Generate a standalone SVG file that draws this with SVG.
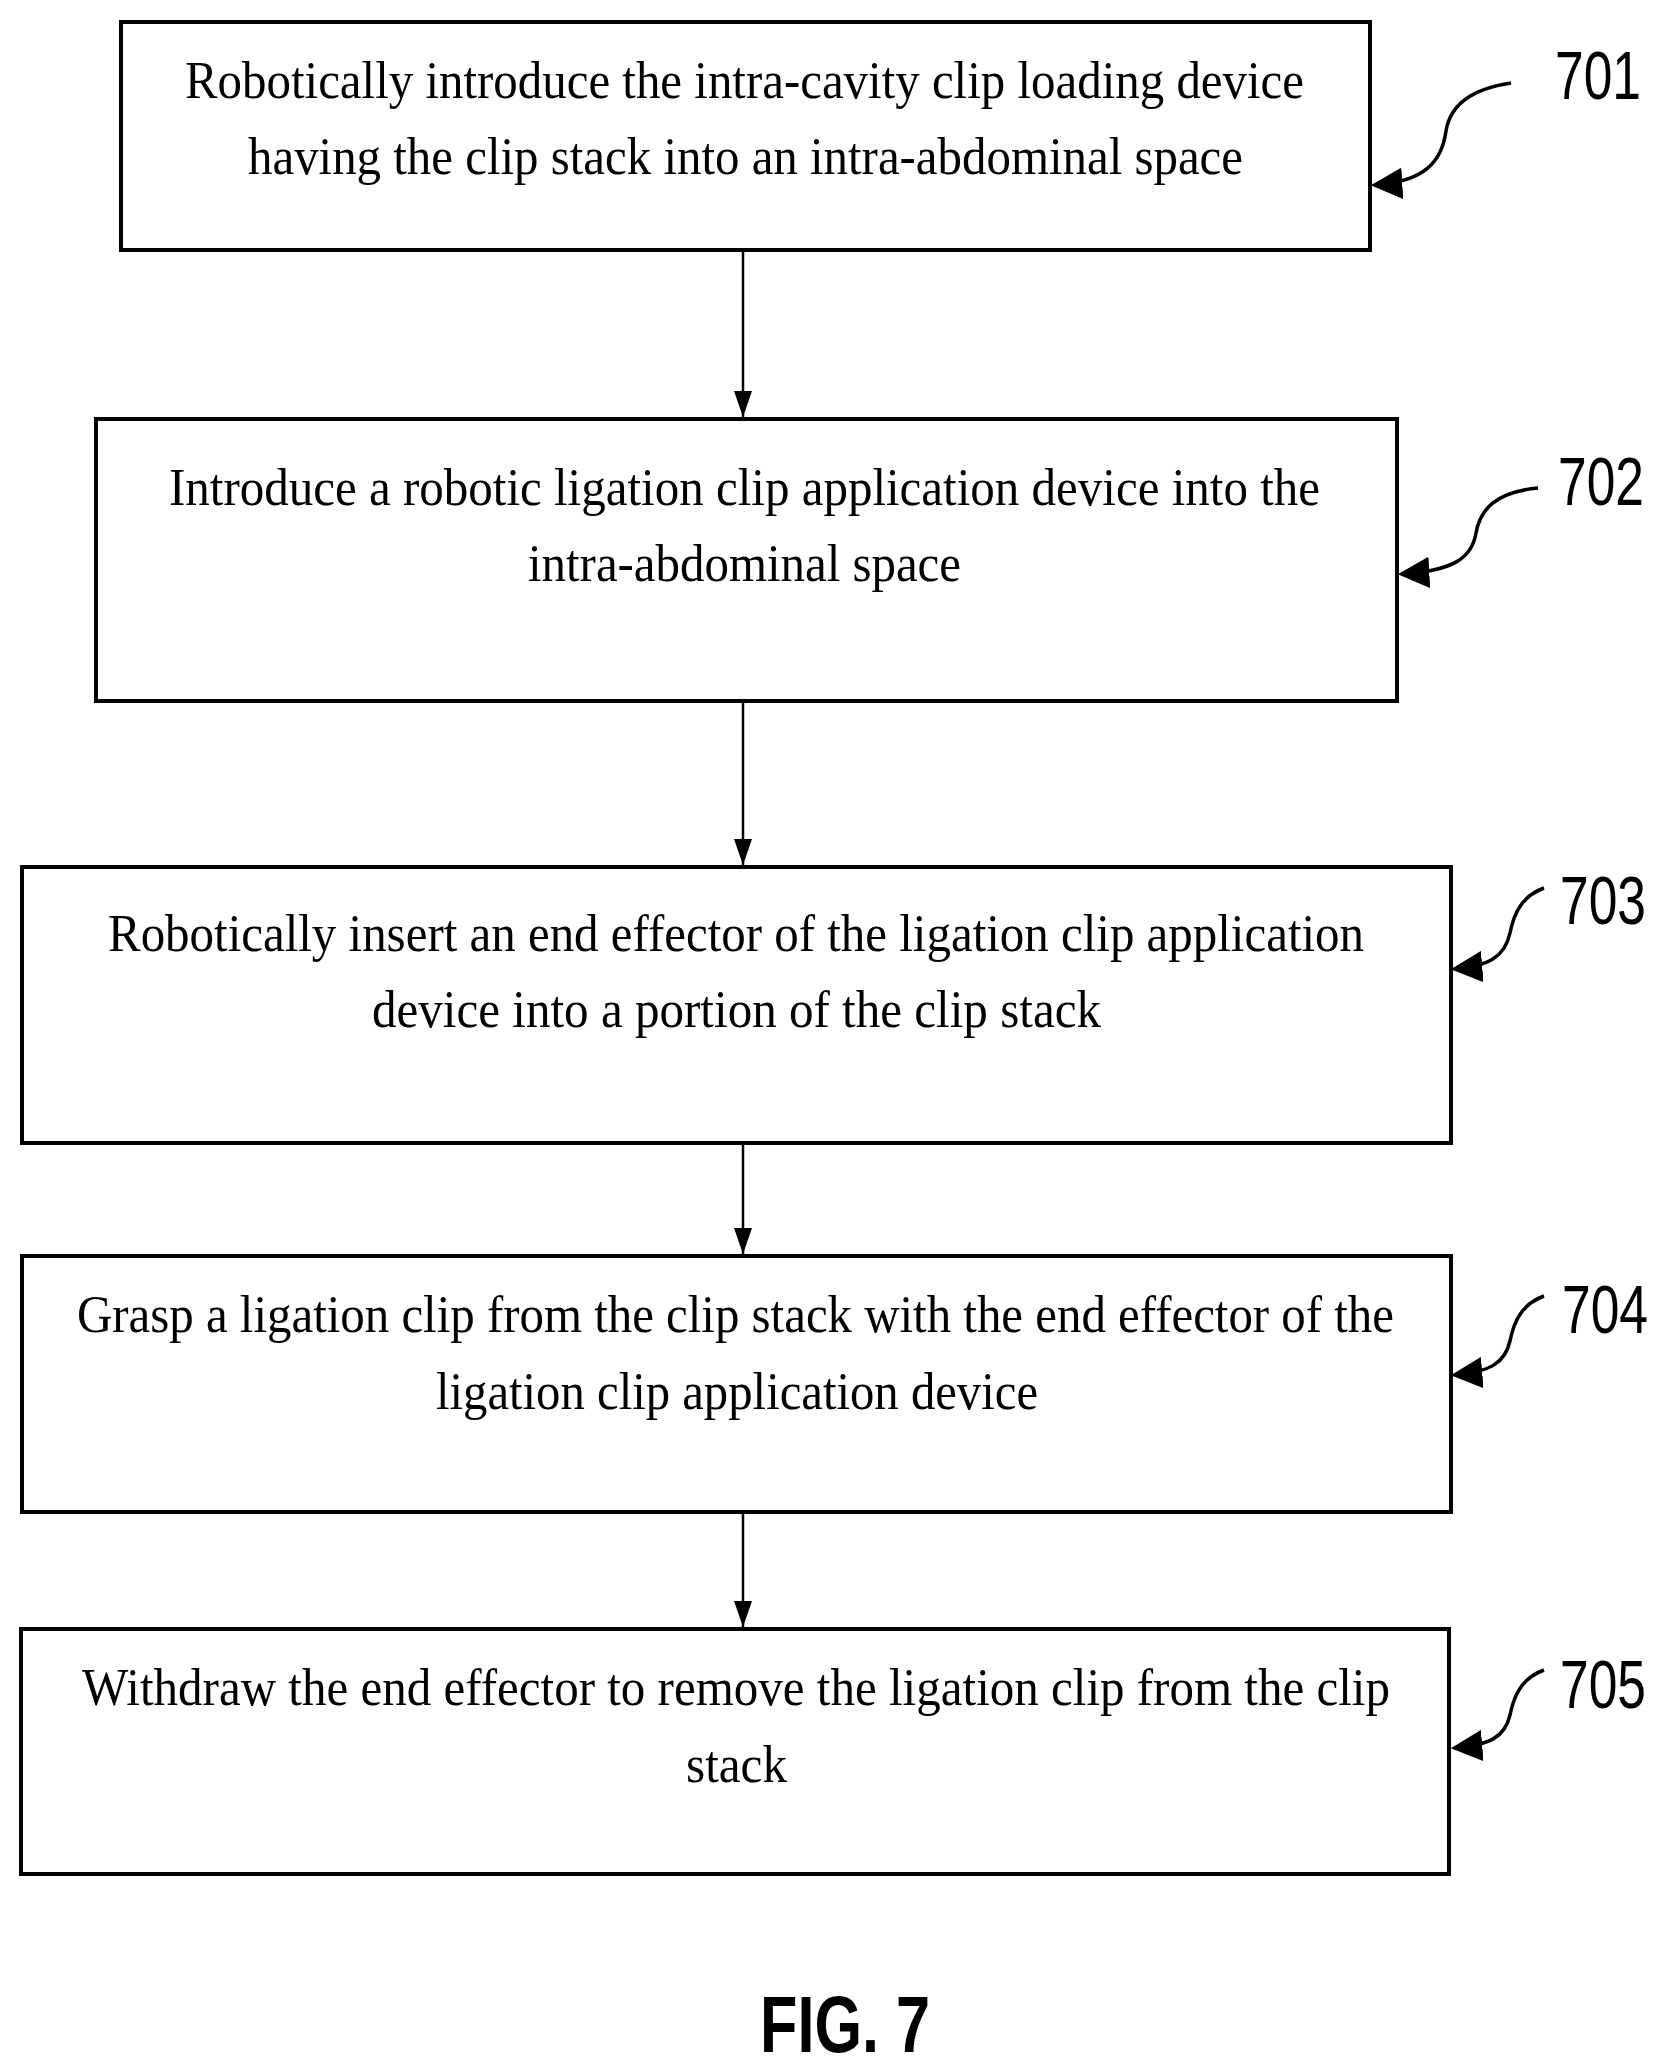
<svg xmlns="http://www.w3.org/2000/svg" width="1673" height="2070" viewBox="0 0 1673 2070">
<defs>
<marker id="ah" viewBox="0 0 10 10" refX="10" refY="5" markerWidth="26" markerHeight="18" orient="auto" markerUnits="userSpaceOnUse" preserveAspectRatio="none"><path d="M0,0 L10,5 L0,10 z" fill="#000"/></marker>
<marker id="ah2" viewBox="0 0 10 10" refX="9" refY="5" markerWidth="9" markerHeight="9" orient="auto-start-reverse"><path d="M0,0 L10,5 L0,10 z" fill="#000"/></marker>
<style>
.box{fill:#fff;stroke:#000;stroke-width:4}
.t{font-family:"Liberation Serif","Times New Roman",serif;font-size:52px;fill:#000;text-anchor:start}
.n{font-family:"Liberation Sans",Arial,sans-serif;font-size:68px;fill:#000}
.c{fill:none;stroke:#000;stroke-width:2.5}
.lead{fill:none;stroke:#000;stroke-width:3.5}
</style>
</defs>
<rect width="1673" height="2070" fill="#fff"/>
<g id="n701"><rect class="box" x="121" y="22" width="1249" height="228"/>
<text class="t" x="185" y="98" textLength="1119" lengthAdjust="spacingAndGlyphs">Robotically introduce the intra-cavity clip loading device</text>
<text class="t" x="248" y="174" textLength="995" lengthAdjust="spacingAndGlyphs">having the clip stack into an intra-abdominal space</text></g>
<g id="n702"><rect class="box" x="96" y="419" width="1301" height="282"/>
<text class="t" x="169" y="505" textLength="1151" lengthAdjust="spacingAndGlyphs">Introduce a robotic ligation clip application device into the</text>
<text class="t" x="528" y="581" textLength="433" lengthAdjust="spacingAndGlyphs">intra-abdominal space</text></g>
<g id="n703"><rect class="box" x="22" y="867" width="1429" height="276"/>
<text class="t" x="108" y="951" textLength="1256" lengthAdjust="spacingAndGlyphs">Robotically insert an end effector of the ligation clip application</text>
<text class="t" x="372" y="1027" textLength="729" lengthAdjust="spacingAndGlyphs">device into a portion of the clip stack</text></g>
<g id="n704"><rect class="box" x="22" y="1256" width="1429" height="256"/>
<text class="t" x="77" y="1332" textLength="1317" lengthAdjust="spacingAndGlyphs">Grasp a ligation clip from the clip stack with the end effector of the</text>
<text class="t" x="436" y="1409" textLength="602" lengthAdjust="spacingAndGlyphs">ligation clip application device</text></g>
<g id="n705"><rect class="box" x="21" y="1629" width="1428" height="245"/>
<text class="t" x="82" y="1705" textLength="1308" lengthAdjust="spacingAndGlyphs">Withdraw the end effector to remove the ligation clip from the clip</text>
<text class="t" x="686" y="1782" textLength="101" lengthAdjust="spacingAndGlyphs">stack</text></g>
<g id="labels">
<text class="n" x="1555" y="99" textLength="86" lengthAdjust="spacingAndGlyphs">701</text>
<text class="n" x="1558" y="505" textLength="86" lengthAdjust="spacingAndGlyphs">702</text>
<text class="n" x="1560" y="924" textLength="86" lengthAdjust="spacingAndGlyphs">703</text>
<text class="n" x="1562" y="1333" textLength="86" lengthAdjust="spacingAndGlyphs">704</text>
<text class="n" x="1560" y="1708" textLength="86" lengthAdjust="spacingAndGlyphs">705</text>
<text x="845" y="2052" text-anchor="middle" font-family="Liberation Sans, Arial, sans-serif" font-weight="bold" font-size="80" textLength="170" lengthAdjust="spacingAndGlyphs">FIG. 7</text>
</g>
<g id="connectors">
<line class="c" x1="743" y1="250" x2="743" y2="417" marker-end="url(#ah)"/>
<line class="c" x1="743" y1="701" x2="743" y2="865" marker-end="url(#ah)"/>
<line class="c" x1="743" y1="1143" x2="743" y2="1254" marker-end="url(#ah)"/>
<line class="c" x1="743" y1="1512" x2="743" y2="1627" marker-end="url(#ah)"/>
<path class="lead" d="M1511,83 C1470,89 1450,106 1446,131 C1442,161 1425,182 1374,185" marker-end="url(#ah2)"/>
<path class="lead" d="M1538,488 C1495,492 1480,510 1476,533 C1472,557 1455,571 1401,574" marker-end="url(#ah2)"/>
<path class="lead" d="M1544,888 C1522,896 1514,913 1510,933 C1505,956 1490,966 1454,969" marker-end="url(#ah2)"/>
<path class="lead" d="M1544,1296 C1522,1304 1514,1321 1510,1341 C1505,1363 1490,1372 1454,1375" marker-end="url(#ah2)"/>
<path class="lead" d="M1544,1670 C1522,1678 1514,1695 1510,1715 C1505,1737 1490,1745 1454,1748" marker-end="url(#ah2)"/>
</g>
</svg>
